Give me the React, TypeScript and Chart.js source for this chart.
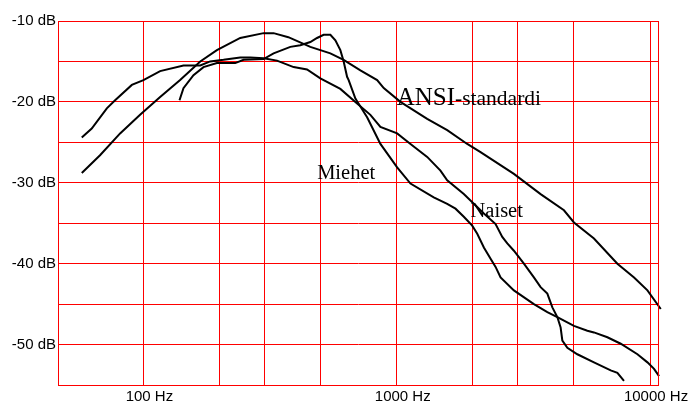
import React, { useEffect, useRef } from "react";
import { Chart, registerables } from "chart.js";

Chart.register(...registerables);

// Frequency axis gridlines and labels
const xGridValues = [100, 200, 300, 500, 1000, 2000, 3000, 5000, 10000];
const xLabelValues = [100, 1000, 10000];
const xMin = 46;
const xMax = 10750;

// Level axis
const yMin = -55;
const yMax = -10;
const yStep = 5;

// Miehet (men)
const menFreq = [57.1, 62.5, 71.7, 77.3, 90, 100, 116.4, 143.9, 167.6, 183.5, 207.1, 241.1, 264.1, 298, 336.8, 391.6, 442.4, 499.3, 599, 697.5, 787, 862.1, 1003.7, 1133, 1319, 1488, 1582, 1840, 2208, 2456, 2610, 2732, 2901, 3177, 3479, 3698, 3931, 4115, 4305, 4436, 4506, 4716, 5164, 6006, 6994, 7431, 7891];
const menDb = [-24.4, -23.3, -20.8, -19.8, -17.9, -17.3, -16.2, -15.5, -15.5, -15.0, -14.8, -14.5, -14.5, -14.6, -14.9, -15.7, -16.0, -17.1, -18.4, -20.2, -21.6, -23.1, -23.9, -25.2, -26.8, -28.5, -29.7, -31.4, -33.8, -35.1, -36.7, -37.5, -38.4, -40.0, -41.7, -42.9, -43.7, -45.4, -46.6, -47.9, -49.5, -50.4, -51.2, -52.2, -53.2, -53.5, -54.5];

// Naiset (women)
const womenFreq = [138.8, 143.9, 157.6, 172.6, 195, 230.4, 248.5, 298, 326.5, 380.1, 416.3, 456, 484.6, 514.6, 547, 572.5, 599, 617.3, 636.8, 646, 686.8, 763.9, 862.1, 1003.7, 1133, 1400, 1582, 1706, 1840, 1986, 2079, 2208, 2347, 2456, 2570, 2901, 3479, 3931, 4305, 5007, 5656, 6006, 6786, 7660, 8917, 9766, 10370, 10854];
const womenDb = [-19.8, -18.3, -16.7, -15.7, -15.2, -15.2, -14.8, -14.7, -14.0, -13.2, -13.0, -12.6, -12.1, -11.7, -11.7, -12.4, -13.6, -15.0, -16.9, -17.3, -19.6, -21.9, -25.2, -28.1, -30.1, -31.8, -32.6, -33.2, -34.2, -35.3, -36.3, -38.0, -39.4, -40.4, -41.7, -43.3, -45.0, -46.0, -46.6, -47.7, -48.3, -48.5, -49.1, -49.9, -51.2, -52.2, -53.0, -53.9];

// ANSI-standardi
const ansiFreq = [57.1, 67.4, 80.9, 97.0, 116.4, 139.6, 167.6, 195, 241.1, 298, 326.5, 373.3, 456, 547, 617, 718.7, 836.8, 888.6, 1034, 1319, 1582, 1898, 2142, 2901, 3698, 4572, 5007, 6006, 7431, 8647, 9766, 11024];
const ansiDb = [-28.8, -26.6, -23.9, -21.6, -19.4, -17.3, -15.0, -13.6, -12.1, -11.5, -11.5, -12.0, -13.2, -14.0, -14.8, -16.1, -17.3, -18.3, -20.0, -22.1, -23.5, -25.2, -26.2, -28.9, -31.4, -33.4, -34.9, -36.9, -40.0, -41.7, -43.3, -45.6];

// Curve captions (anchored in data coordinates)
const captionTexts = [["ANSI", "-standardi"], ["Miehet"], ["Naiset"]];
const captionFreq = [1000, 485, 1956];
const captionDb = [-20.4, -29.5, -34.2];

const SANS = '"Liberation Sans", Arial, Helvetica, sans-serif';
const SERIF = '"Liberation Serif", "Times New Roman", Times, serif';
const RED = "#ff0000";

const zip = (xs: number[], ys: number[]) => xs.map((x, i) => ({ x, y: ys[i] }));

const frame = {
  id: "frame",
  afterDraw(chart: any) {
    const { ctx, chartArea } = chart;
    ctx.save();
    ctx.strokeStyle = RED;
    ctx.lineWidth = 1;
    ctx.strokeRect(
      Math.round(chartArea.left) + 0.5,
      Math.round(chartArea.top) + 0.5,
      Math.round(chartArea.right - chartArea.left),
      Math.round(chartArea.bottom - chartArea.top)
    );
    ctx.restore();
  },
};

const captions = {
  id: "captions",
  afterDatasetsDraw(chart: any) {
    const { ctx } = chart;
    const xs = chart.scales.x;
    const ys = chart.scales.y;
    ctx.save();
    ctx.fillStyle = "#000";
    ctx.textBaseline = "alphabetic";
    ctx.textAlign = "left";
    captionTexts.forEach((parts, i) => {
      let px = xs.getPixelForValue(captionFreq[i]);
      const py = ys.getPixelForValue(captionDb[i]);
      parts.forEach((t, j) => {
        const size = parts.length > 1 ? (j === 0 ? 25 : 21.5) : 20.5;
        ctx.font = `${size}px ${SERIF}`;
        ctx.fillText(t, px, py);
        px += ctx.measureText(t).width;
      });
    });
    ctx.restore();
  },
};

export default function App() {
  const ref = useRef<HTMLCanvasElement | null>(null);

  useEffect(() => {
    if (!ref.current) return;
    const lineStyle = {
      borderColor: "#000",
      borderWidth: 2,
      pointRadius: 0,
      tension: 0,
      fill: false,
      clip: false as any,
    };
    const chart = new Chart(ref.current, {
      type: "line",
      data: {
        datasets: [
          { label: "Miehet", data: zip(menFreq, menDb), ...lineStyle },
          { label: "Naiset", data: zip(womenFreq, womenDb), ...lineStyle },
          { label: "ANSI-standardi", data: zip(ansiFreq, ansiDb), ...lineStyle },
        ],
      },
      options: {
        animation: false,
        responsive: false,
        devicePixelRatio: 1,
        parsing: false,
        layout: { padding: { top: 21, right: 35, left: 0, bottom: 0 } },
        plugins: { legend: { display: false }, tooltip: { enabled: false } },
        scales: {
          x: {
            type: "logarithmic",
            min: xMin,
            max: xMax,
            afterBuildTicks: (s: any) => {
              s.ticks = xGridValues.map((v) => ({ value: v }));
            },
            afterFit: (s: any) => {
              s.height = 20;
              s.paddingLeft = 0;
              s.paddingRight = 0;
            },
            ticks: {
              autoSkip: false,
              maxRotation: 0,
              minRotation: 0,
              padding: 3,
              labelOffset: 6,
              color: "#000",
              font: { family: SANS, size: 15 },
              callback: (v: any) => (xLabelValues.includes(Number(v)) ? `${v} Hz` : ""),
            },
            grid: { color: RED, lineWidth: 1, drawTicks: false },
            border: { color: RED },
          },
          y: {
            type: "linear",
            min: yMin,
            max: yMax,
            afterFit: (s: any) => {
              s.width = 58;
              s.paddingTop = 0;
              s.paddingBottom = 0;
            },
            ticks: {
              stepSize: yStep,
              padding: 2,
              color: "#000",
              font: { family: SANS, size: 15 },
              callback: (v: any) => (Number(v) % 10 === 0 ? `${v} dB` : ""),
            },
            grid: { color: RED, lineWidth: 1, drawTicks: false },
            border: { color: RED },
          },
        },
      } as any,
      plugins: [frame, captions],
    });
    return () => chart.destroy();
  }, []);

  return (
    <div style={{ position: "fixed", left: 0, top: 0, width: 693, height: 405, background: "#fff" }}>
      <canvas ref={ref} width={693} height={405} style={{ display: "block" }} />
    </div>
  );
}
